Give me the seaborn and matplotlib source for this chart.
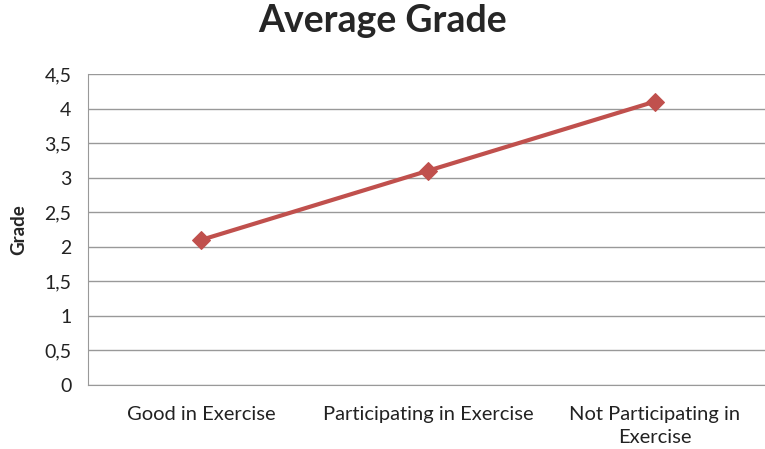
import matplotlib.pyplot as plt
import pandas as pd
import seaborn as sns

categories = ["Good in Exercise", "Participating in Exercise", "Not Participating in\nExercise"]
grades = [2.1, 3.1, 4.1]
y_ticks = [0, 0.5, 1, 1.5, 2, 2.5, 3, 3.5, 4, 4.5]

sns.set_style("white")
plt.rcParams["font.family"] = ["Lato", "DejaVu Sans"]

data = pd.DataFrame({"category": categories, "grade": grades})

figure = plt.figure(figsize=(7.65, 4.49), dpi=100)
axis = figure.add_axes([88 / 765, 1 - 385 / 449, 680 / 765, 311 / 449])
sns.lineplot(data=data, x="category", y="grade", ax=axis, color="#C0504D",
             linewidth=3, marker="D", markersize=9, markeredgecolor="#C0504D", sort=False)

axis.set_xlim(-0.5, 2.5)
axis.set_ylim(0, 4.5)
axis.set_yticks(y_ticks)
axis.set_yticklabels([f"{t:g}".replace(".", ",") for t in y_ticks], fontsize=14, color="#222222")
axis.tick_params(axis="x", labelsize=14.5, colors="#222222", pad=15, length=0)
axis.tick_params(axis="y", length=0, pad=12)
for label in axis.get_xticklabels():
    label.set_linespacing(1.45)
axis.grid(axis="y", color="#999999", linewidth=1)
axis.set_axisbelow(True)
for side in ["top", "right"]:
    axis.spines[side].set_visible(False)
for side in ["left", "bottom"]:
    axis.spines[side].set_color("#999999")
axis.set_xlabel("")
axis.set_ylabel("Grade", fontsize=13.5, fontweight="bold")
axis.yaxis.set_label_coords(-88 / 680 + 27 / 680, 0.5)
figure.suptitle("Average Grade", x=0.5, y=0.99, fontsize=27, fontweight="bold")

figure.savefig("out.png", dpi=100)
plt.close(figure)
